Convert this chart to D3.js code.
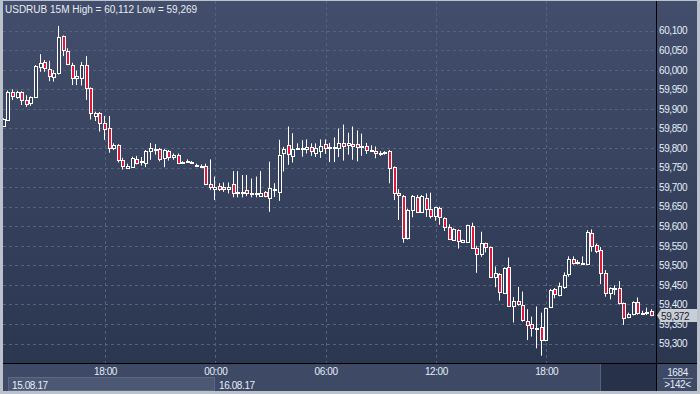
<!DOCTYPE html>
<html>
<head>
<meta charset="utf-8">
<script src="https://cdn.jsdelivr.net/npm/d3@7"></script>
<style>
  body { margin: 0; background: #bcc2cc; }
  svg { display: block; }
  text { font-family: "Liberation Sans", Arial, sans-serif; font-size: 10px; letter-spacing: -0.4px; }
  text.title { letter-spacing: 0; }
</style>
</head>
<body>
<svg id="chart" width="700" height="394"></svg>
<script>
const symbol = 'USDRUB 15M';
const highLabel = '60,112';
const lowLabel = '59,269';
const lastPrice = 59.372;
const barsTotal = '1684';
const barsVisible = '>142<';
const startTime = new Date(2017, 7, 15, 12, 30);
const barMinutes = 15;

const priceTicks = [59.30, 59.35, 59.40, 59.45, 59.50, 59.55, 59.60, 59.65, 59.70,
                    59.75, 59.80, 59.85, 59.90, 59.95, 60.00, 60.05, 60.10];

const open = [
  59.856, 59.872, 59.942, 59.930, 59.942, 59.923, 59.914, 59.930, 60.008, 60.021,
  60.001, 59.982, 59.991, 60.086, 60.049, 60.012, 59.978, 59.980, 60.012, 59.953,
  59.882, 59.889, 59.864, 59.850, 59.800, 59.808, 59.770, 59.749, 59.752, 59.771,
  59.766, 59.763, 59.792, 59.798, 59.797, 59.774, 59.792, 59.778, 59.782, 59.764,
  59.766, 59.764, 59.757, 59.755, 59.754, 59.707, 59.695, 59.702, 59.701, 59.695,
  59.708, 59.686, 59.687, 59.693, 59.684, 59.683, 59.677, 59.688, 59.672, 59.692,
  59.688, 59.787, 59.808, 59.780, 59.797, 59.800, 59.797, 59.802, 59.788, 59.793,
  59.810, 59.802, 59.801, 59.799, 59.812, 59.807, 59.810, 59.811, 59.805, 59.805,
  59.795, 59.792, 59.787, 59.788, 59.793, 59.751, 59.684, 59.677, 59.569, 59.642,
  59.675, 59.637, 59.672, 59.643, 59.626, 59.646, 59.620, 59.599, 59.565, 59.590,
  59.560, 59.560, 59.601, 59.544, 59.529, 59.556, 59.546, 59.470, 59.477, 59.429,
  59.495, 59.397, 59.409, 59.399, 59.359, 59.350, 59.340, 59.342, 59.308, 59.393,
  59.439, 59.424, 59.445, 59.478, 59.516, 59.507, 59.506, 59.504, 59.584, 59.552,
  59.539, 59.481, 59.430, 59.441, 59.441, 59.403, 59.367, 59.375, 59.406, 59.378,
  59.381, 59.383
];
const high = [
  59.876, 59.947, 59.950, 59.946, 59.945, 59.935, 59.932, 60.012, 60.040, 60.025,
  60.023, 59.999, 60.112, 60.088, 60.055, 60.018, 59.998, 60.020, 60.035, 59.955,
  59.893, 59.892, 59.882, 59.882, 59.812, 59.810, 59.775, 59.760, 59.778, 59.780,
  59.777, 59.795, 59.813, 59.810, 59.800, 59.798, 59.795, 59.786, 59.786, 59.766,
  59.771, 59.767, 59.760, 59.758, 59.760, 59.771, 59.727, 59.710, 59.712, 59.712,
  59.741, 59.741, 59.731, 59.731, 59.722, 59.727, 59.741, 59.690, 59.765, 59.710,
  59.821, 59.803, 59.855, 59.838, 59.812, 59.820, 59.822, 59.812, 59.812, 59.822,
  59.822, 59.813, 59.827, 59.850, 59.860, 59.839, 59.855, 59.845, 59.837, 59.813,
  59.807, 59.804, 59.792, 59.792, 59.795, 59.753, 59.695, 59.680, 59.645, 59.680,
  59.680, 59.680, 59.684, 59.686, 59.650, 59.650, 59.623, 59.605, 59.595, 59.592,
  59.566, 59.604, 59.609, 59.550, 59.586, 59.558, 59.548, 59.497, 59.480, 59.495,
  59.520, 59.419, 59.445, 59.433, 59.388, 59.369, 59.395, 59.379, 59.392, 59.440,
  59.442, 59.456, 59.482, 59.523, 59.523, 59.514, 59.523, 59.590, 59.592, 59.556,
  59.547, 59.488, 59.444, 59.449, 59.460, 59.405, 59.379, 59.408, 59.418, 59.384,
  59.392, 59.388
];
const low = [
  59.854, 59.871, 59.923, 59.926, 59.910, 59.905, 59.908, 59.928, 59.995, 59.995,
  59.971, 59.970, 59.988, 60.035, 60.012, 59.961, 59.961, 59.960, 59.923, 59.873,
  59.869, 59.842, 59.821, 59.788, 59.795, 59.763, 59.745, 59.747, 59.750, 59.758,
  59.755, 59.751, 59.770, 59.783, 59.766, 59.751, 59.768, 59.770, 59.760, 59.761,
  59.762, 59.760, 59.754, 59.750, 59.705, 59.693, 59.667, 59.690, 59.688, 59.684,
  59.674, 59.674, 59.674, 59.677, 59.674, 59.674, 59.676, 59.674, 59.637, 59.675,
  59.665, 59.740, 59.757, 59.763, 59.795, 59.778, 59.786, 59.780, 59.777, 59.775,
  59.785, 59.764, 59.764, 59.777, 59.768, 59.783, 59.770, 59.766, 59.780, 59.785,
  59.790, 59.774, 59.780, 59.783, 59.710, 59.667, 59.616, 59.558, 59.566, 59.623,
  59.635, 59.635, 59.624, 59.620, 59.614, 59.604, 59.588, 59.565, 59.563, 59.543,
  59.559, 59.558, 59.542, 59.481, 59.522, 59.533, 59.470, 59.444, 59.410, 59.427,
  59.395, 59.354, 59.397, 59.356, 59.309, 59.318, 59.288, 59.269, 59.306, 59.391,
  59.416, 59.421, 59.440, 59.471, 59.502, 59.502, 59.502, 59.502, 59.535, 59.531,
  59.452, 59.420, 59.413, 59.424, 59.400, 59.348, 59.365, 59.372, 59.374, 59.373,
  59.373, 59.370
];
const close = [
  59.874, 59.944, 59.933, 59.943, 59.923, 59.912, 59.930, 60.010, 60.018, 60.004,
  59.984, 59.991, 60.083, 60.051, 60.014, 59.978, 59.984, 60.012, 59.953, 59.890,
  59.890, 59.863, 59.848, 59.801, 59.808, 59.770, 59.754, 59.755, 59.774, 59.761,
  59.767, 59.792, 59.799, 59.797, 59.771, 59.795, 59.776, 59.783, 59.763, 59.763,
  59.767, 59.763, 59.757, 59.754, 59.708, 59.700, 59.700, 59.695, 59.695, 59.700,
  59.684, 59.687, 59.686, 59.686, 59.685, 59.684, 59.686, 59.678, 59.697, 59.694,
  59.782, 59.797, 59.785, 59.797, 59.801, 59.801, 59.802, 59.793, 59.799, 59.805,
  59.799, 59.803, 59.802, 59.814, 59.805, 59.812, 59.804, 59.802, 59.806, 59.795,
  59.796, 59.787, 59.788, 59.789, 59.748, 59.686, 59.679, 59.569, 59.642, 59.677,
  59.637, 59.677, 59.643, 59.626, 59.648, 59.623, 59.599, 59.567, 59.592, 59.563,
  59.564, 59.602, 59.544, 59.529, 59.556, 59.546, 59.471, 59.480, 59.431, 59.493,
  59.397, 59.409, 59.401, 59.360, 59.348, 59.339, 59.339, 59.308, 59.390, 59.437,
  59.426, 59.447, 59.476, 59.516, 59.506, 59.508, 59.505, 59.586, 59.550, 59.538,
  59.481, 59.430, 59.441, 59.442, 59.405, 59.365, 59.375, 59.406, 59.378, 59.379,
  59.382, 59.372
];

const data = close.map((c, i) => ({
  t: d3.timeMinute.offset(startTime, i * barMinutes),
  o: open[i], h: high[i], l: low[i], c: c
}));

const svg = d3.select('#chart');
const plot = { left: 3, right: 656, top: 1, bottom: 363 };
const frameBottom = 391;
const frameRight = 697;
const textColor = '#e6eefa';

const priceFmt = v => d3.format('.3f')(v).replace('.', ',');

const xScale = d3.scaleTime()
  .domain([data[0].t, data[data.length - 1].t])
  .range([3.9, 651.9]);

const yScale = d3.scaleLinear()
  .domain([59.30, 60.10])
  .range([343.6, 30.7]);

// background
const defs = svg.append('defs');
const grad = defs.append('linearGradient')
  .attr('id', 'bg').attr('x1', 0).attr('y1', 0).attr('x2', 0).attr('y2', 1);
grad.append('stop').attr('offset', '0%').attr('stop-color', '#424e6b');
grad.append('stop').attr('offset', '100%').attr('stop-color', '#2b3651');

defs.append('clipPath').attr('id', 'plotClip')
  .append('rect')
  .attr('x', plot.left).attr('y', plot.top)
  .attr('width', plot.right - plot.left).attr('height', plot.bottom - plot.top);

svg.append('rect')
  .attr('x', plot.left).attr('y', plot.top)
  .attr('width', frameRight - plot.left).attr('height', plot.bottom - plot.top)
  .attr('fill', 'url(#bg)');

svg.append('rect')
  .attr('x', plot.left).attr('y', plot.bottom)
  .attr('width', frameRight - plot.left).attr('height', frameBottom - plot.bottom)
  .attr('fill', '#3d4965');

// grid
const gridG = svg.append('g').attr('clip-path', 'url(#plotClip)');

gridG.selectAll('.hgrid').data(priceTicks)
  .enter().append('line')
  .attr('class', 'hgrid')
  .attr('x1', plot.left).attr('x2', plot.right)
  .attr('y1', d => Math.round(yScale(d)) + 0.5)
  .attr('y2', d => Math.round(yScale(d)) + 0.5)
  .attr('stroke', '#56627d')
  .attr('stroke-dasharray', '3,3');

const timeTicks = d3.timeHour.every(6).range(data[0].t, data[data.length - 1].t);

gridG.selectAll('.vgrid').data(timeTicks)
  .enter().append('line')
  .attr('class', 'vgrid')
  .attr('x1', d => Math.round(xScale(d)) + 0.5)
  .attr('x2', d => Math.round(xScale(d)) + 0.5)
  .attr('y1', plot.top).attr('y2', plot.bottom)
  .attr('stroke', '#56627d')
  .attr('stroke-dasharray', '3,3');

// candles
const candleG = svg.append('g').attr('clip-path', 'url(#plotClip)');

const candles = candleG.selectAll('.candle').data(data)
  .enter().append('g')
  .attr('class', 'candle');

const cx = d => Math.round(xScale(d.t));
const bodyTop = d => Math.round(yScale(Math.max(d.o, d.c)));
const bodyBot = d => Math.max(Math.round(yScale(Math.min(d.o, d.c))), bodyTop(d) + 1);

candles.append('line')
  .attr('x1', d => cx(d) - 0.5).attr('x2', d => cx(d) - 0.5)
  .attr('y1', d => yScale(d.h)).attr('y2', d => bodyTop(d))
  .attr('stroke', '#ffffff');

candles.append('line')
  .attr('x1', d => cx(d) - 0.5).attr('x2', d => cx(d) - 0.5)
  .attr('y1', d => bodyBot(d)).attr('y2', d => yScale(d.l))
  .attr('stroke', '#ffffff');

candles.append('rect')
  .attr('x', d => cx(d) - 2 + 0.5)
  .attr('y', d => bodyTop(d) + 0.5)
  .attr('width', 3)
  .attr('height', d => bodyBot(d) - bodyTop(d))
  .attr('fill', d => d.c < d.o ? '#e0163a' : '#34405d')
  .attr('stroke', '#ffffff')
  .attr('stroke-width', 1);

// title
svg.append('text')
  .attr('class', 'title')
  .attr('x', 5).attr('y', 13)
  .attr('fill', '#e8ecf3')
  .text(`${symbol} High = ${highLabel} Low = ${lowLabel}`);

// right price axis
const yAxis = d3.axisRight(yScale)
  .tickValues(priceTicks)
  .tickSize(0)
  .tickPadding(0)
  .tickFormat(priceFmt);

const yAxisG = svg.append('g')
  .attr('class', 'yAxis')
  .attr('transform', `translate(${plot.right + 3},0)`)
  .call(yAxis);

yAxisG.select('.domain').remove();
yAxisG.attr('font-size', null).attr('font-family', null);
yAxisG.selectAll('text').attr('fill', textColor);

// last price marker
const lastY = Math.round(yScale(lastPrice));
svg.append('path')
  .attr('d', `M${plot.right + 1},${lastY + 0.5} L${plot.right + 5},${lastY - 6} L${frameRight},${lastY - 6} L${frameRight},${lastY + 7} L${plot.right + 5},${lastY + 7} Z`)
  .attr('fill', '#c9cdd5');
svg.append('text')
  .attr('x', plot.right + 5).attr('y', lastY + 4.5)
  .attr('fill', '#1c2433')
  .text(priceFmt(lastPrice));

// bottom time axis
const xAxis = d3.axisBottom(xScale)
  .tickValues(timeTicks)
  .tickSize(0)
  .tickPadding(0)
  .tickFormat(d3.timeFormat('%H:%M'));

const xAxisG = svg.append('g')
  .attr('class', 'xAxis')
  .attr('transform', `translate(0,${plot.bottom + 5})`)
  .call(xAxis);

xAxisG.select('.domain').remove();
xAxisG.attr('font-size', null).attr('font-family', null);
xAxisG.selectAll('text').attr('fill', textColor);

// date strip
const dayStart = d3.timeDay.ceil(data[0].t);
svg.append('rect')
  .attr('x', 8.5).attr('y', 377.5)
  .attr('width', Math.round(xScale(dayStart)) - 9).attr('height', frameBottom - 378)
  .attr('fill', '#4c5873')
  .attr('stroke', '#5c6884').attr('stroke-width', 1);

const dateFmt = d3.timeFormat('%d.%m.%y');
svg.append('text')
  .attr('x', 12).attr('y', 388.5)
  .attr('fill', textColor)
  .text(dateFmt(data[0].t));
svg.append('text')
  .attr('x', Math.round(xScale(dayStart)) + 4).attr('y', 388.5)
  .attr('fill', textColor)
  .text(dateFmt(dayStart));

// scroll box
svg.append('rect')
  .attr('x', 600).attr('y', plot.bottom + 1)
  .attr('width', plot.right - 600).attr('height', frameBottom - plot.bottom - 1)
  .attr('fill', '#27314a');
svg.append('line')
  .attr('x1', 600.5).attr('x2', 600.5)
  .attr('y1', plot.bottom + 1).attr('y2', frameBottom)
  .attr('stroke', '#56627d');

// bar counter
const cellMid = (plot.right + frameRight) / 2 + 1;
svg.append('text')
  .attr('x', cellMid).attr('y', 376)
  .attr('text-anchor', 'middle')
  .attr('fill', textColor)
  .text(barsTotal);
svg.append('line')
  .attr('x1', 663).attr('x2', 693)
  .attr('y1', 378.5).attr('y2', 378.5)
  .attr('stroke', '#8a94a8');
svg.append('text')
  .attr('x', cellMid).attr('y', 388)
  .attr('text-anchor', 'middle')
  .attr('fill', textColor)
  .text(barsVisible);

// separators
svg.append('line')
  .attr('x1', plot.right + 0.5).attr('x2', plot.right + 0.5)
  .attr('y1', plot.top).attr('y2', frameBottom)
  .attr('stroke', '#000000');
svg.append('line')
  .attr('x1', plot.left).attr('x2', frameRight)
  .attr('y1', plot.bottom + 0.5).attr('y2', plot.bottom + 0.5)
  .attr('stroke', '#000000');
</script>
</body>
</html>
